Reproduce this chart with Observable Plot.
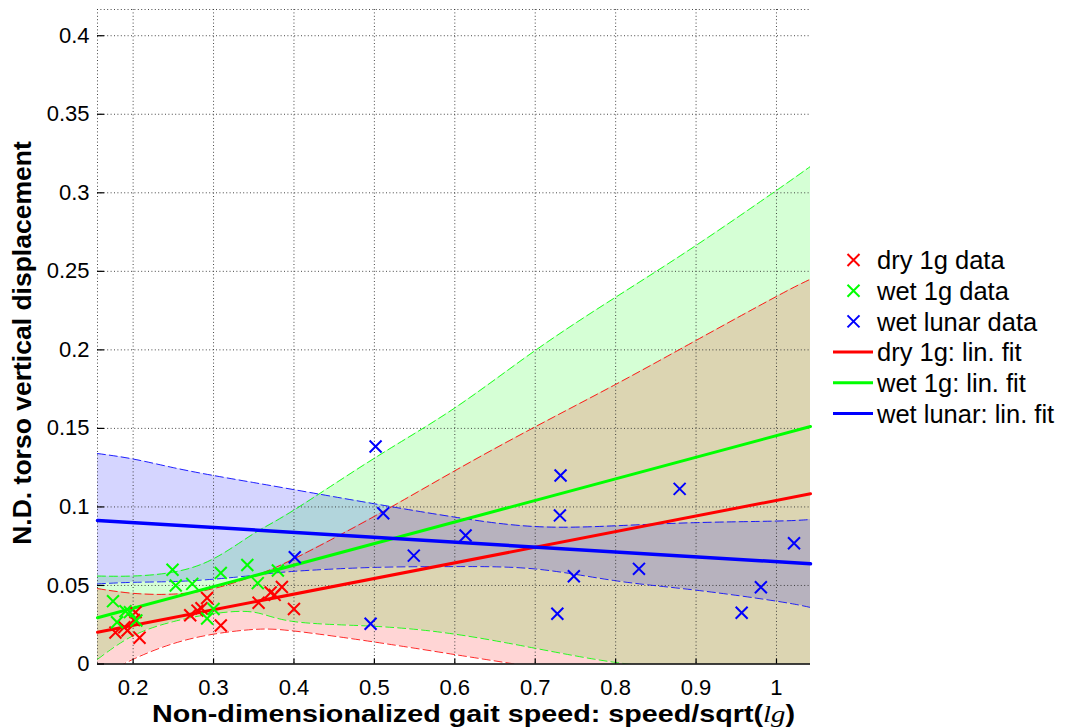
<!DOCTYPE html>
<html>
<head>
<meta charset="utf-8">
<script src="https://cdn.jsdelivr.net/npm/d3@7"></script>
<script src="https://cdn.jsdelivr.net/npm/@observablehq/plot@0.6"></script>
<style>
  body { margin: 0; background: #fff; }
  #chart { position: relative; width: 1065px; height: 728px; }
</style>
</head>
<body>
<div id="chart"></div>
<script>
// ---------- data ----------
const xDomain = [0.1557, 1.0423];
const yDomain = [0, 0.4167];
const xTicks = [0.2, 0.3, 0.4, 0.5, 0.6, 0.7, 0.8, 0.9, 1];
const yTicks = [0, 0.05, 0.1, 0.15, 0.2, 0.25, 0.3, 0.35, 0.4];

const dryX = [0.178, 0.189, 0.193, 0.201, 0.203, 0.208, 0.271, 0.280, 0.285, 0.292, 0.309, 0.356, 0.371, 0.376, 0.385, 0.400];
const dryY = [0.020, 0.0234, 0.0213, 0.028, 0.033, 0.0167, 0.031, 0.034, 0.0355, 0.042, 0.0245, 0.039, 0.0455, 0.044, 0.049, 0.035];

const wetX = [0.175, 0.180, 0.1905, 0.196, 0.204, 0.249, 0.253, 0.2735, 0.292, 0.300, 0.309, 0.342, 0.355, 0.380];
const wetY = [0.040, 0.0266, 0.0336, 0.033, 0.0277, 0.060, 0.050, 0.051, 0.029, 0.035, 0.058, 0.063, 0.0515, 0.0595];

const lunarX = [0.401, 0.4953, 0.5015, 0.511, 0.549, 0.6134, 0.7275, 0.7307, 0.7315, 0.748, 0.829, 0.8796, 0.9567, 0.9806, 1.0218];
const lunarY = [0.068, 0.0256, 0.1385, 0.096, 0.069, 0.0818, 0.032, 0.0946, 0.120, 0.0559, 0.0606, 0.1115, 0.0326, 0.0489, 0.0769];

// linear fits (values at the two ends of the x range)
const fitX = [0.1557, 1.0423];
const dryFit = [0.0202, 0.1084];
const wetFit = [0.0294, 0.1512];
const lunarFit = [0.0914, 0.0638];

// confidence bands, read at these x positions
const bandX = [0.1557, 0.2, 0.25, 0.3, 0.35, 0.4, 0.5, 0.6, 0.7, 0.8, 0.9, 1.0, 1.0423];
const dryUpper = [0.048, 0.045, 0.0445, 0.048, 0.056, 0.067, 0.094, 0.123, 0.151, 0.178, 0.206, 0.234, 0.245];
const dryLower = [-0.009, 0.003, 0.013, 0.019, 0.022, 0.021, 0.014, 0.006, -0.002, -0.010, -0.019, -0.027, -0.031];
const wetUpper = [0.056, 0.056, 0.0585, 0.067, 0.083, 0.098, 0.131, 0.163, 0.1996, 0.2335, 0.2665, 0.3015, 0.3168];
const wetLower = [0.003, 0.018, 0.027, 0.032, 0.033, 0.027, 0.024, 0.019, 0.010, 0.001, -0.005, -0.013, -0.017];
const lunarUpper = [0.134, 0.1305, 0.125, 0.120, 0.1155, 0.111, 0.102, 0.0935, 0.0875, 0.088, 0.090, 0.091, 0.092];
const lunarLower = [0.051, 0.052, 0.0525, 0.054, 0.0565, 0.059, 0.0615, 0.062, 0.0605, 0.053, 0.047, 0.040, 0.036];

const seriesNames = ["dry 1g data", "wet 1g data", "wet lunar data", "dry 1g: lin. fit", "wet 1g: lin. fit", "wet lunar: lin. fit"];

// ---------- tables built from the arrays ----------
const RED = "#ff0000", GREEN = "#00ff00", BLUE = "#0000ff";
const points = [
  ...dryX.map((x, i) => ({x, y: dryY[i], c: RED})),
  ...wetX.map((x, i) => ({x, y: wetY[i], c: GREEN})),
  ...lunarX.map((x, i) => ({x, y: lunarY[i], c: BLUE}))
];
const bands = bandX.map((x, i) => ({
  x, dryHi: dryUpper[i], dryLo: dryLower[i],
  wetHi: wetUpper[i], wetLo: wetLower[i],
  lunHi: lunarUpper[i], lunLo: lunarLower[i]
}));
const fits = fitX.map((x, i) => ({x, dry: dryFit[i], wet: wetFit[i], lun: lunarFit[i]}));

const dotted = {stroke: "#333", strokeOpacity: 0.9, strokeWidth: 1, strokeDasharray: "1,2.4"};
const dash = (k, c) => Plot.lineY(bands, {x: "x", y: k, stroke: c, strokeWidth: 1, strokeOpacity: 0.85, strokeDasharray: "8,4", curve: "natural", clip: true});
const band = (lo, hi, c) => Plot.areaY(bands, {x: "x", y1: lo, y2: hi, fill: c, fillOpacity: 0.165, curve: "natural", clip: true});

const plot = Plot.plot({
  width: 1065,
  height: 728,
  marginLeft: 97,
  marginRight: 255,
  marginTop: 9,
  marginBottom: 64.5,
  x: {domain: xDomain, label: null},
  y: {domain: yDomain, label: null},
  style: {fontFamily: "'Liberation Sans', Arial, sans-serif", fontSize: "22px", background: "#fff", color: "#000", overflow: "visible"},
  marks: [
    band("wetLo", "wetHi", GREEN),
    band("dryLo", "dryHi", RED),
    band("lunLo", "lunHi", BLUE),
    Plot.gridX(xTicks, dotted),
    Plot.gridY(yTicks.slice(1), dotted),
    Plot.ruleX([xDomain[0]], dotted),
    Plot.ruleY([yDomain[1]], dotted),
    dash("dryHi", RED), dash("dryLo", RED),
    dash("wetHi", GREEN), dash("wetLo", GREEN),
    dash("lunHi", BLUE), dash("lunLo", BLUE),
    Plot.line(fits, {x: "x", y: "dry", stroke: RED, strokeWidth: 3}),
    Plot.line(fits, {x: "x", y: "wet", stroke: GREEN, strokeWidth: 3}),
    Plot.line(fits, {x: "x", y: "lun", stroke: BLUE, strokeWidth: 3.5}),
    Plot.dot(points, {x: "x", y: "y", symbol: "times", r: 5.5, stroke: "c", strokeWidth: 2}),
    Plot.ruleY([0], {stroke: "#000", strokeWidth: 1.5}),
    // inward ticks
    Plot.ruleX(xTicks, {x: d => d, y1: 0, y2: 0, insetTop: -5, stroke: "#000", strokeWidth: 1.2}),
    Plot.ruleY(yTicks, {y: d => d, x1: xDomain[0], x2: xDomain[0], insetRight: -7, stroke: "#000", strokeWidth: 1.2}),
    Plot.axisX(xTicks, {tickSize: 0, tickPadding: 15, tickFormat: d => String(d), label: null}),
    Plot.axisY(yTicks, {tickSize: 0, tickPadding: 8, tickFormat: d => String(d), label: null})
  ]
});

document.getElementById("chart").appendChild(plot);

// ---------- axis titles and legend ----------
const svg = d3.select(plot);
const FONT = "'Liberation Sans', Arial, sans-serif";

const xl = svg.append("text")
  .attr("x", 473.5).attr("y", 722)
  .attr("text-anchor", "middle")
  .attr("textLength", 643).attr("lengthAdjust", "spacingAndGlyphs")
  .attr("font-family", FONT).attr("font-weight", "bold").attr("font-size", 24)
  .attr("fill", "#000");
xl.append("tspan").text("Non-dimensionalized gait speed: speed/sqrt(");
xl.append("tspan").attr("font-family", "'Liberation Serif', 'Times New Roman', serif").attr("font-style", "italic").attr("font-weight", "normal").text("lg");
xl.append("tspan").text(")");

svg.append("text")
  .attr("transform", "translate(31,343) rotate(-90)")
  .attr("text-anchor", "middle")
  .attr("font-family", FONT).attr("font-weight", "bold").attr("font-size", 26.5)
  .attr("fill", "#000")
  .text("N.D. torso vertical displacement");

const legendColors = [RED, GREEN, BLUE, RED, GREEN, BLUE];
const lg = svg.append("g").attr("font-family", FONT).attr("font-size", 25.5).attr("text-anchor", "start");
seriesNames.forEach((name, i) => {
  const cy = 260 + i * 30.7;
  const g = lg.append("g").attr("transform", `translate(0,${cy})`);
  if (i < 3) {
    g.append("path")
      .attr("d", "M847.5,-6L859.5,6M859.5,-6L847.5,6")
      .attr("stroke", legendColors[i]).attr("stroke-width", 2).attr("fill", "none");
  } else {
    g.append("line").attr("x1", 833).attr("x2", 873).attr("y1", 0).attr("y2", 0)
      .attr("stroke", legendColors[i]).attr("stroke-width", 3);
  }
  g.append("text").attr("x", 877).attr("y", 0).attr("dy", "0.36em")
    .attr("text-anchor", "start").attr("fill", "#000").text(name);
});
</script>
</body>
</html>
